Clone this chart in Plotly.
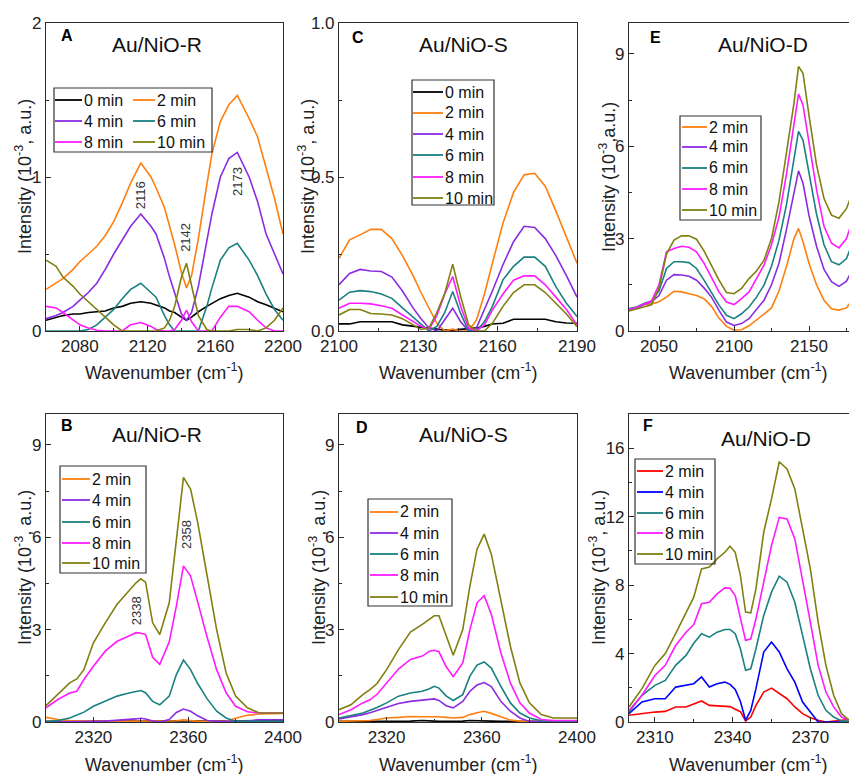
import plotly.graph_objects as go

# page geometry: the browser body keeps an 8 px margin, so the figure is sized to fill the rest
PAGE_W, PAGE_H, OFF = 857, 774, 8
W, H = PAGE_W - OFF, PAGE_H - OFF
FONT = "Liberation Sans, Arial, sans-serif"

# ---------------- colours ----------------
C_BLACK, C_ORANGE, C_PURPLE = "#000000", "#FF7F0E", "#8B2BE2"
C_TEAL, C_PINK, C_OLIVE = "#1A8080", "#FF1AFF", "#808010"
C_RED, C_BLUE = "#FF0000", "#0000FF"

# ---------------- Panel A : Au/NiO-R, CO region ----------------
A_x = [2060, 2066, 2070, 2076, 2080, 2085, 2090, 2095, 2100, 2105, 2110, 2116, 2122, 2125, 2130,
       2133, 2136, 2140, 2143, 2146, 2150, 2155, 2158, 2163, 2168, 2173, 2180, 2185, 2190, 2195, 2200]
A_0min = [.07, .09, .10, .11, .11, .12, .125, .13, .15, .16, .18, .19, .18, .17, .15,
          .13, .12, .09, .07, .09, .125, .16, .18, .21, .23, .245, .22, .19, .17, .15, .125]
A_2min = [.27, .31, .34, .40, .45, .50, .55, .62, .71, .83, .96, 1.09, 1.00, .93, .80,
          .68, .56, .38, .28, .36, .60, .95, 1.15, 1.36, 1.47, 1.53, 1.38, 1.26, 1.06, .86, .63]
A_4min = [.08, .10, .12, .16, .20, .25, .31, .40, .50, .59, .68, .76, .68, .63, .47,
          .35, .24, .11, .07, .12, .29, .58, .76, 1.00, 1.12, 1.16, 1.00, .84, .63, .50, .37]
A_6min = [0, 0, 0, 0, 0, .01, .04, .09, .14, .21, .27, .31, .25, .22, .10,
          .04, 0, 0, 0, 0, 0, .16, .28, .46, .54, .57, .46, .36, .24, .14, .07]
A_8min = [.16, .15, .12, .07, .04, .02, .005, 0, 0, 0, .04, .055, .03, .01, 0,
          0, .01, .07, .135, .06, 0, 0, 0, .09, .16, .16, .125, .07, .02, 0, 0]
A_10min = [.46, .42, .35, .29, .24, .19, .135, .085, .04, 0, 0, 0, 0, 0, .02,
           .07, .16, .35, .44, .30, .10, .01, 0, 0, 0, .01, .01, 0, .02, .07, .15]
A_peaks = [2116, 2142, 2173]
A_peak_y = [0.88, 0.61, 0.97]

# ---------------- Panel C : Au/NiO-S, CO region ----------------
C_x = [2100, 2104, 2108, 2112, 2116, 2120, 2124, 2128, 2131, 2134, 2137, 2140, 2143,
       2146, 2149, 2152, 2155, 2158, 2162, 2166, 2170, 2174, 2178, 2182, 2186, 2190]
C_0min = [.023, .023, .03, .03, .03, .03, .02, .016, .012, .01, .006, .003, .003,
          .005, .008, .01, .015, .023, .025, .038, .038, .038, .038, .03, .026, .025]
C_2min = [.236, .296, .312, .33, .33, .30, .245, .18, .125, .075, .025, 0, .006,
          0, 0, .036, .12, .22, .35, .45, .507, .512, .47, .39, .306, .22]
C_4min = [.15, .187, .20, .195, .193, .175, .13, .075, .04, .01, 0, .036, .074,
          .03, 0, .01, .068, .13, .215, .29, .34, .336, .30, .245, .18, .11]
C_6min = [.10, .126, .131, .128, .12, .106, .075, .045, .025, 0, .015, .06, .128,
          .057, 0, 0, .03, .08, .166, .21, .24, .24, .21, .144, .09, .047]
C_8min = [.074, .09, .09, .088, .082, .074, .052, .03, .015, .005, .05, .12, .177,
          .08, .01, 0, .02, .068, .12, .165, .179, .179, .15, .11, .07, .02]
C_10min = [.052, .07, .07, .057, .055, .052, .04, .02, .005, .01, .06, .122, .217,
           .112, .02, 0, 0, .025, .08, .125, .15, .15, .125, .09, .055, .014]

# ---------------- Panel E : Au/NiO-D, CO region ----------------
E_x = [2030, 2035, 2040, 2045, 2050, 2055, 2060, 2065, 2070, 2075, 2080, 2085, 2090, 2095, 2100, 2105, 2110,
       2115, 2120, 2125, 2130, 2135, 2140, 2143, 2146, 2150, 2155, 2160, 2165, 2170, 2175, 2180, 2183]
E_2min = [.67, .75, .86, .88, .95, 1.1, 1.29, 1.27, 1.21, 1.15, 1.05, .80, .42, .15, .03, .04, .17,
          .35, .55, .75, 1.3, 2.1, 3.0, 3.33, 2.9, 2.2, 1.5, 1.0, .72, .68, .75, 1.1, 1.4]
E_4min = [.70, .75, .86, .95, 1.15, 1.65, 1.83, 1.82, 1.78, 1.65, 1.4, 1.1, .67, .29, .18, .24, .40,
          .70, 1.0, 1.5, 2.2, 3.3, 4.5, 5.2, 4.8, 3.75, 2.75, 2.0, 1.6, 1.45, 1.62, 2.1, 2.45]
E_6min = [.73, .78, .89, .97, 1.3, 2.03, 2.25, 2.25, 2.22, 2.03, 1.65, 1.25, .84, .51, .40, .56, .78,
          1.1, 1.49, 2.1, 2.95, 4.1, 5.6, 6.48, 6.2, 5.1, 3.8, 2.8, 2.25, 2.15, 2.35, 3.0, 3.55]
E_8min = [.70, .76, .88, .97, 1.5, 2.57, 2.68, 2.75, 2.72, 2.57, 2.2, 1.75, 1.27, .94, .86, 1.05, 1.27,
          1.7, 2.14, 2.8, 3.7, 5.1, 6.7, 7.69, 7.34, 6.1, 4.6, 3.4, 2.85, 2.7, 3.0, 3.76, 4.4]
E_10min = [.65, .72, .80, .85, 1.4, 2.5, 2.95, 3.09, 3.09, 2.98, 2.6, 2.14, 1.65, 1.25, 1.21, 1.38, 1.7,
           1.95, 2.3, 3.0, 4.2, 5.8, 7.4, 8.59, 8.37, 7.0, 5.4, 4.3, 3.76, 3.66, 3.98, 4.63, 5.3]

# ---------------- Panel B : Au/NiO-R, CO2 region ----------------
B_x = [2300, 2305, 2310, 2313, 2316, 2320, 2325, 2330, 2335, 2338, 2340, 2342, 2345, 2348,
       2352, 2355, 2358, 2361, 2364, 2368, 2372, 2376, 2380, 2385, 2390, 2395, 2400]
B_0min = [.02, .02, .02, .02, .02, .02, .02, .02, .02, .02, .02, .02, .02, .02,
          .02, .02, .03, .02, .02, .02, .02, .02, .03, .04, .05, .05, .05]
B_2min = [.15, .08, .05, .04, .03, .02, .02, .02, .02, .02, .02, .02, .02, .02,
          .02, .04, .07, .04, .02, .02, .02, .02, .12, .22, .26, .27, .28]
B_4min = [0, 0, 0, 0, 0, .02, .03, .05, .08, .10, .12, .10, .03, 0,
          .08, .31, .42, .35, .20, .05, .02, .02, .02, .03, .07, .07, .07]
B_6min = [0, .05, .13, .22, .32, .51, .67, .84, .94, 1.0, 1.02, .95, .67, .56,
          .84, 1.54, 2.01, 1.7, 1.25, .75, .35, .13, .02, .02, .02, .02, .02]
B_8min = [.46, .73, .94, 1.0, 1.38, 1.81, 2.3, 2.62, 2.79, 2.9, 2.88, 2.84, 2.1, 1.87,
          2.6, 3.76, 5.07, 4.74, 3.9, 2.75, 1.7, .95, .51, .33, .29, .29, .29]
B_10min = [.53, .89, 1.27, 1.4, 1.7, 2.57, 3.22, 3.82, 4.25, 4.52, 4.65, 4.54, 3.22, 2.84,
           3.87, 5.93, 7.94, 7.56, 6.48, 4.74, 3.0, 1.59, .84, .46, .29, .29, .29]
B_peaks = [2338, 2358]
B_peak_x = [2338, 2359]
B_peak_y = [3.6, 6.1]

# ---------------- Panel D : Au/NiO-S, CO2 region ----------------
D_x = B_x
D_0min = [.02, .02, .02, .02, .02, .02, .02, .03, .05, .05, .03, .02, .02, .02,
          .03, .05, .05, .05, .03, .02, .02, .02, .02, .02, .02, .02, .02]
D_2min = [.02, .03, .03, .05, .08, .13, .15, .18, .17, .18, .18, .17, .15, .13,
          .15, .24, .30, .35, .28, .16, .06, .03, .02, .02, .02, .02, .02]
D_4min = [.10, .16, .24, .30, .37, .46, .60, .67, .70, .72, .75, .70, .53, .46,
          .67, 1.0, 1.2, 1.28, 1.15, .67, .35, .13, .02, .01, .01, .01, .01]
D_6min = [.13, .20, .29, .38, .47, .62, .84, .94, 1.0, 1.08, 1.16, 1.10, .85, .70,
          .89, 1.49, 1.85, 1.95, 1.75, 1.16, .62, .29, .13, .04, .03, .03, .03]
D_8min = [.24, .40, .62, .72, .90, 1.27, 1.72, 2.03, 2.14, 2.3, 2.33, 2.28, 1.8, 1.47,
          1.92, 3.0, 3.87, 4.1, 3.5, 2.25, 1.27, .62, .29, .08, .05, .05, .05]
D_10min = [.40, .56, .89, 1.05, 1.25, 1.7, 2.35, 2.92, 3.17, 3.33, 3.45, 3.45, 2.8, 2.17,
           3.0, 4.41, 5.61, 6.1, 5.45, 3.98, 2.46, 1.27, .62, .24, .13, .13, .13]

# ---------------- Panel F : Au/NiO-D, CO2 region ----------------
F_x = [2300, 2305, 2310, 2314, 2318, 2322, 2325, 2328, 2331, 2334, 2337, 2339, 2341, 2343, 2345,
       2347, 2349, 2352, 2355, 2358, 2361, 2364, 2367, 2370, 2373, 2376, 2379, 2382, 2385, 2388]
F_2min = [.39, .49, .58, .62, .88, .88, 1.07, 1.23, .97, .95, .93, .90, .75, .60, .06,
          .29, .97, 1.75, 1.98, 1.65, 1.36, .88, .49, .25, .10, 0, .03, .10, .15, .19]
F_4min = [.49, 1.17, 1.36, 1.36, 2.04, 2.14, 2.24, 2.63, 2.04, 2.24, 2.33, 2.2, 1.9, 1.2, .10,
          .68, 1.95, 4.09, 4.67, 4.09, 3.11, 2.33, 1.17, .58, 0, 0, 0, 0, 0, 0]
F_6min = [.58, 1.56, 2.14, 2.43, 3.31, 3.89, 4.6, 5.16, 4.96, 5.25, 5.41, 5.41, 5.16, 4.28, 3.02,
          3.11, 4.28, 6.23, 7.59, 8.52, 8.17, 7.0, 5.06, 3.11, 1.56, .68, .29, .06, .05, .10]
F_8min = [.68, 1.56, 2.72, 3.31, 4.47, 5.25, 5.7, 6.91, 7.0, 7.49, 7.84, 7.82, 7.39, 6.03, 4.77,
          4.86, 6.03, 8.17, 10.31, 11.96, 11.87, 10.7, 8.37, 5.84, 3.31, 1.75, .88, .29, .10, .15]
F_10min = [.88, 1.95, 3.31, 4.0, 5.16, 6.42, 7.3, 8.95, 9.05, 9.53, 9.92, 10.27, 9.92, 8.56, 6.42,
           6.38, 7.78, 11.09, 13.04, 15.21, 14.79, 13.62, 11.28, 8.95, 5.84, 3.31, 1.56, .49, .10, .19]


# ---------------- layout geometry (page pixels) ----------------
def fx(p):
    return (p - OFF) / W


def fy(p):
    return 1 - (p - OFF) / H


COLS = [(46, 283), (339, 577), (629, 857)]
ROWS = [(23, 331), (414, 722)]

panels = [
    dict(letter="A", title="Au/NiO-R", col=0, row=0, x=A_x,
         series=[("0 min", A_0min, C_BLACK), ("2 min", A_2min, C_ORANGE), ("4 min", A_4min, C_PURPLE),
                 ("6 min", A_6min, C_TEAL), ("8 min", A_8min, C_PINK), ("10 min", A_10min, C_OLIVE)],
         xr=[2060, 2200], xt0=2080, xdt=40, xm=20, yr=[0, 2], ydt=1, ym=0.5, yfmt="",
         letter_pos=(67, 35), title_pos=(157, 45), ytitle_x=23, xtitle_c=164,
         ytitle="Intensity (10<sup>-3</sup>, a.u.)"),
    dict(letter="C", title="Au/NiO-S", col=1, row=0, x=C_x,
         series=[("0 min", C_0min, C_BLACK), ("2 min", C_2min, C_ORANGE), ("4 min", C_4min, C_PURPLE),
                 ("6 min", C_6min, C_TEAL), ("8 min", C_8min, C_PINK), ("10 min", C_10min, C_OLIVE)],
         xr=[2100, 2190], xt0=2100, xdt=30, xm=15, yr=[0, 1], ydt=0.5, ym=0.25, yfmt=".1f",
         letter_pos=(358, 38), title_pos=(463, 45), ytitle_x=306, xtitle_c=458,
         ytitle="Intensity (10<sup>-3</sup>, a.u.)"),
    dict(letter="E", title="Au/NiO-D", col=2, row=0, x=E_x,
         series=[("2 min", E_2min, C_ORANGE), ("4 min", E_4min, C_PURPLE), ("6 min", E_6min, C_TEAL),
                 ("8 min", E_8min, C_PINK), ("10 min", E_10min, C_OLIVE)],
         xr=[2030, 2182], xt0=2050, xdt=50, xm=25, yr=[0, 10], ydt=3, ym=1.5, yfmt="",
         letter_pos=(655, 37), title_pos=(763, 45), ytitle_x=607, xtitle_c=748,
         ytitle="Intensity (10<sup>-3</sup>,a.u.)"),
    dict(letter="B", title="Au/NiO-R", col=0, row=1, x=B_x,
         series=[("0 min", B_0min, C_BLACK), ("2 min", B_2min, C_ORANGE), ("4 min", B_4min, C_PURPLE),
                 ("6 min", B_6min, C_TEAL), ("8 min", B_8min, C_PINK), ("10 min", B_10min, C_OLIVE)],
         xr=[2300, 2400], xt0=2320, xdt=40, xm=20, yr=[0, 10], ydt=3, ym=1.5, yfmt="",
         letter_pos=(67, 425), title_pos=(157, 435), ytitle_x=23, xtitle_c=164,
         ytitle="Intensity (10<sup>-3</sup>, a.u.)"),
    dict(letter="D", title="Au/NiO-S", col=1, row=1, x=D_x,
         series=[("0 min", D_0min, C_BLACK), ("2 min", D_2min, C_ORANGE), ("4 min", D_4min, C_PURPLE),
                 ("6 min", D_6min, C_TEAL), ("8 min", D_8min, C_PINK), ("10 min", D_10min, C_OLIVE)],
         xr=[2300, 2400], xt0=2320, xdt=40, xm=20, yr=[0, 10], ydt=3, ym=1.5, yfmt="",
         letter_pos=(362, 427), title_pos=(463, 435), ytitle_x=317, xtitle_c=458,
         ytitle="Intensity (10<sup>-3</sup>, a.u.)"),
    dict(letter="F", title="Au/NiO-D", col=2, row=1, x=F_x,
         series=[("2 min", F_2min, C_RED), ("4 min", F_4min, C_BLUE), ("6 min", F_6min, C_TEAL),
                 ("8 min", F_8min, C_PINK), ("10 min", F_10min, C_OLIVE)],
         xr=[2300, 2388], xt0=2310, xdt=30, xm=15, yr=[0, 18], ydt=4, ym=2, yfmt="",
         letter_pos=(648, 426), title_pos=(766, 438), ytitle_x=597, xtitle_c=748,
         ytitle="Intensity (10<sup>-3</sup>, a.u.)"),
]

# legend geometry: box, and (line_x0, line_x1, y) per entry label
legends = {
    "A": dict(box=(54, 88, 212, 152),
              entries={"0 min": (55, 82, 100), "2 min": (133, 155, 100), "4 min": (55, 82, 121),
                       "6 min": (133, 155, 121), "8 min": (55, 82, 142), "10 min": (133, 155, 142)}),
    "C": dict(box=(412, 80, 494, 205),
              entries={lab: (413, 443, y) for lab, y in zip(["0 min", "2 min", "4 min", "6 min", "8 min", "10 min"],
                                                           [92, 113, 134, 155, 177, 198])}),
    "E": dict(box=(680, 116, 761, 220),
              entries={lab: (682, 707, y) for lab, y in zip(["2 min", "4 min", "6 min", "8 min", "10 min"],
                                                           [127, 147, 168, 189, 210])}),
    "B": dict(box=(60, 466, 146, 573),
              entries={lab: (62, 90, y) for lab, y in zip(["2 min", "4 min", "6 min", "8 min", "10 min"],
                                                         [479, 500, 522, 543, 563])}),
    "D": dict(box=(368, 499, 452, 606),
              entries={lab: (370, 398, y) for lab, y in zip(["2 min", "4 min", "6 min", "8 min", "10 min"],
                                                           [512, 533, 554, 575, 597])}),
    "F": dict(box=(635, 459, 715, 564),
              entries={lab: (637, 663, y) for lab, y in zip(["2 min", "4 min", "6 min", "8 min", "10 min"],
                                                           [471, 492, 513, 533, 554])}),
}

fig = go.Figure()
shapes, annotations = [], []
AX_COLOR = "#2b2b2b"


def note(x, y, text, size, color="#222", xanchor="center", xref="paper", yref="paper", angle=0):
    return dict(x=x, y=y, xref=xref, yref=yref, text=text, showarrow=False, textangle=angle,
                xanchor=xanchor, yanchor="middle", font=dict(family=FONT, size=size, color=color))


for i, p in enumerate(panels, start=1):
    xa = "x" if i == 1 else f"x{i}"
    ya = "y" if i == 1 else f"y{i}"
    c0, c1 = COLS[p["col"]]
    r0, r1 = ROWS[p["row"]]
    for name, vals, color in p["series"]:
        fig.add_trace(go.Scatter(x=p["x"], y=vals, mode="lines", name=f"{p['letter']}: {name}",
                                 line=dict(color=color, width=1.6), showlegend=False,
                                 xaxis=xa, yaxis=ya))
    last_col = p["col"] == 2
    fig.layout[("xaxis" if i == 1 else f"xaxis{i}")] = dict(
        domain=[fx(c0), min(1.0, fx(c1))], anchor=ya, range=p["xr"], tick0=p["xt0"], dtick=p["xdt"],
        automargin=False, showline=True, linecolor=AX_COLOR, linewidth=1.1, mirror=True,
        ticks="inside", ticklen=5, tickcolor=AX_COLOR, showgrid=False, zeroline=False,
        tickfont=dict(family=FONT, size=17, color="#222"),
        minor=dict(ticks="inside", ticklen=3, dtick=p["xm"], tick0=p["xt0"], tickcolor=AX_COLOR, showgrid=False))
    fig.layout[("yaxis" if i == 1 else f"yaxis{i}")] = dict(
        domain=[fy(r1), fy(r0)], anchor=xa, range=p["yr"], tick0=0, dtick=p["ydt"], tickformat=p["yfmt"],
        automargin=False, showline=True, linecolor=AX_COLOR, linewidth=1.1, mirror=(not last_col),
        ticks="inside", ticklen=5, tickcolor=AX_COLOR, showgrid=False, zeroline=False,
        tickfont=dict(family=FONT, size=17, color="#222"),
        minor=dict(ticks="inside", ticklen=3, dtick=p["ym"], tick0=0, tickcolor=AX_COLOR, showgrid=False))

    # panel letter and title
    lx, ly = p["letter_pos"]
    annotations.append(note(fx(lx), fy(ly), f"<b>{p['letter']}</b>", 16, "#000"))
    tx, ty = p["title_pos"]
    annotations.append(note(fx(tx), fy(ty), p["title"], 21, "#111"))
    # axis titles
    annotations.append(note(fx(p["ytitle_x"]), fy((r0 + r1) / 2), p["ytitle"], 18, angle=-90))
    annotations.append(note(fx(p["xtitle_c"]), fy(r1 + 41), "Wavenumber (cm<sup>-1</sup>)", 18))

    # legend drawn by hand (Origin-style box)
    lg = legends[p["letter"]]
    bx0, by0, bx1, by1 = lg["box"]
    shapes.append(dict(type="rect", xref="paper", yref="paper", x0=fx(bx0), x1=fx(bx1), y0=fy(by1), y1=fy(by0),
                       line=dict(color="#333", width=1.2), fillcolor="rgba(255,255,255,0)"))
    for name, vals, color in p["series"]:
        if name not in lg["entries"]:
            continue
        lx0, lx1, ey = lg["entries"][name]
        shapes.append(dict(type="line", xref="paper", yref="paper", x0=fx(lx0), x1=fx(lx1), y0=fy(ey), y1=fy(ey),
                           line=dict(color=color, width=1.8)))
        annotations.append(note(fx(lx1), fy(ey), name, 16, "#111", xanchor="left"))

# peak position labels
for xv, yv in zip(A_peaks, A_peak_y):
    annotations.append(note(xv, yv, str(xv), 13, "#333", xref="x", yref="y", angle=-90))
for lab, xv, yv in zip(B_peaks, B_peak_x, B_peak_y):
    annotations.append(note(xv, yv, str(lab), 13, "#333", xref="x4", yref="y4", angle=-90))

fig.update_layout(template="none", width=W, height=H, margin=dict(l=0, r=0, t=0, b=0, pad=0),
                  paper_bgcolor="white", plot_bgcolor="white", showlegend=False,
                  shapes=shapes, annotations=annotations, font=dict(family=FONT))
fig.write_html("out.html")
